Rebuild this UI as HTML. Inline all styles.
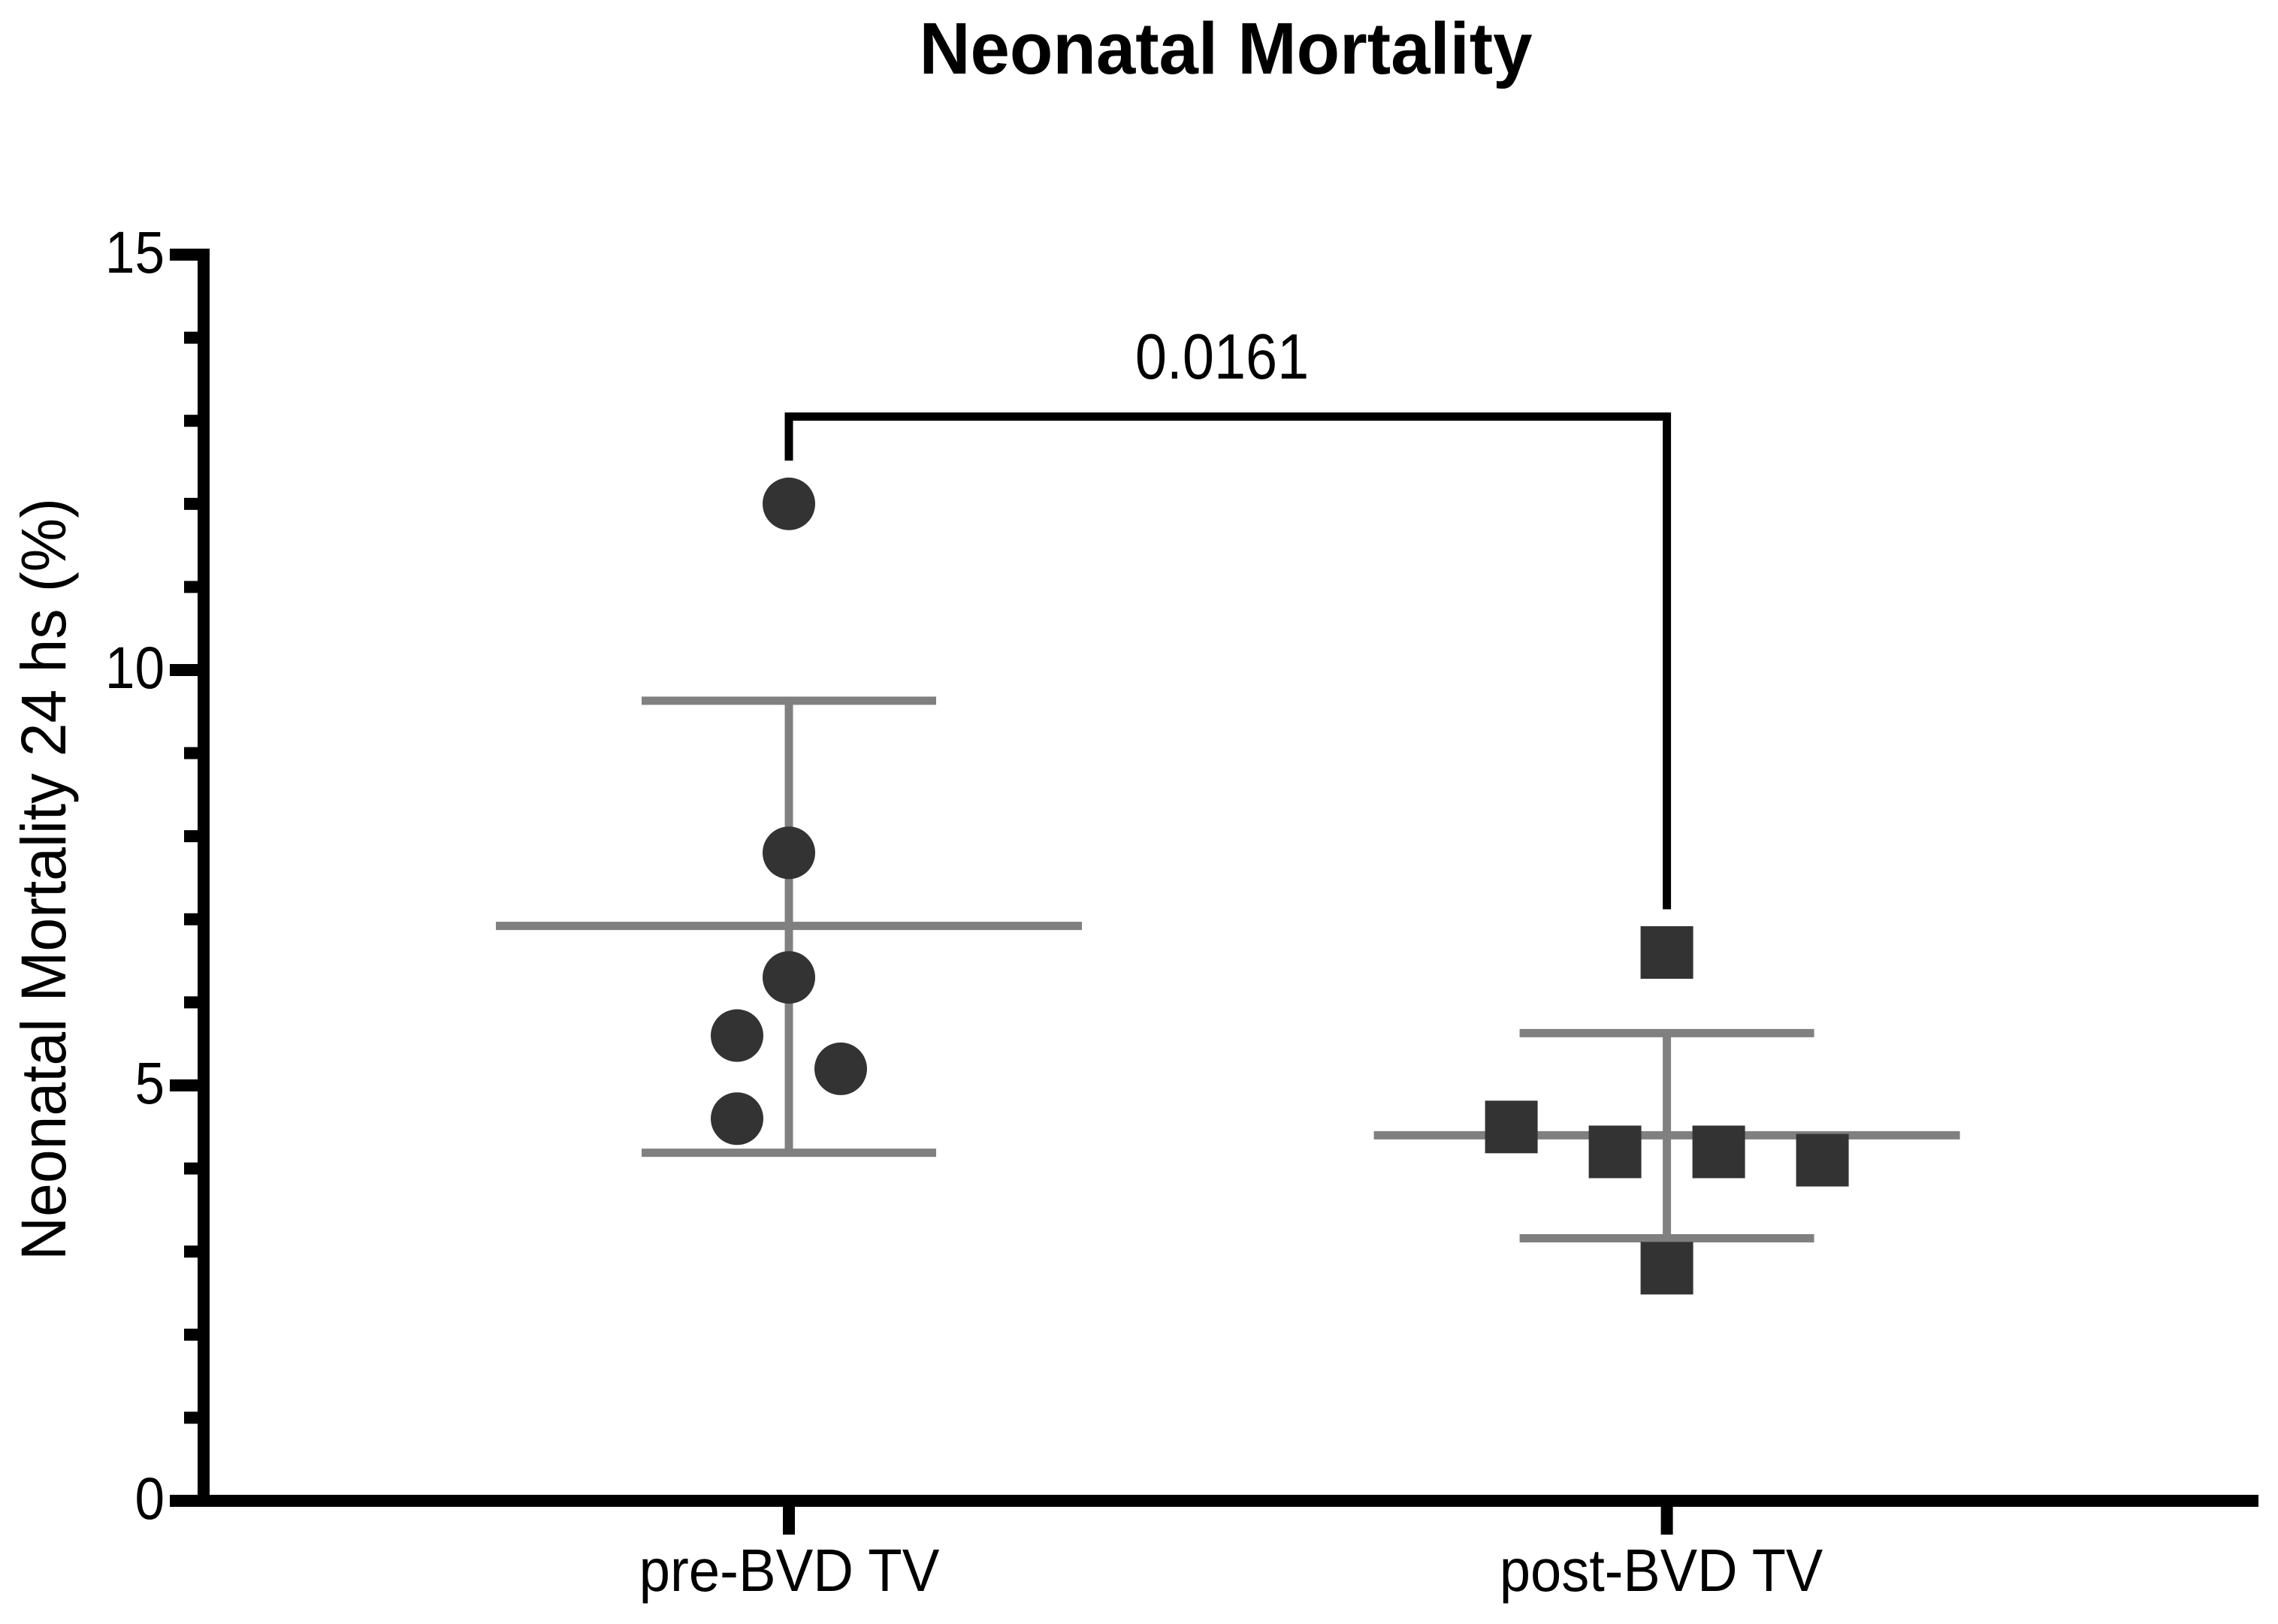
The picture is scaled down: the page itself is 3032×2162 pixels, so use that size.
<!DOCTYPE html>
<html lang="en">
<head>
<meta charset="utf-8">
<title>Neonatal Mortality</title>
<style>
html,body{margin:0;padding:0;background:#fff;width:3032px;height:2162px;overflow:hidden}
svg{display:block}
text{font-family:"Liberation Sans",Arial,sans-serif;fill:#000}
</style>
</head>
<body>
<svg id="chart" xmlns="http://www.w3.org/2000/svg" width="3032" height="2162" viewBox="0 0 3032 2162">
  <rect x="0" y="0" width="3032" height="2162" fill="#fff"/>
  <text x="1223.5" y="98" font-size="97" font-weight="700" textLength="816" lengthAdjust="spacingAndGlyphs">Neonatal Mortality</text>
  <text transform="translate(87,1678) rotate(-90) scale(1,1.06)" x="0" y="0" font-size="80" textLength="1015" lengthAdjust="spacingAndGlyphs">Neonatal Mortality 24 hs (%)</text>
  <g id="errorbars"></g>
  <g id="points"></g>
  <g id="axes"></g>
  <g id="significance"></g>
</svg>
<script>
const categories = ['pre-BVD TV', 'post-BVD TV'];
const preValues = [12.0, 7.8, 6.3, 5.6, 5.2, 4.6];
const preSwarmSlots = [0, 0, 0, -1, 1, -1];
const postValues = [6.6, 4.5, 4.2, 4.2, 4.1, 2.8];
const postSwarmSlots = [0, -3, -1, 1, 3, 0];
const means = [6.92, 4.4];
const upperErrors = [9.63, 5.63];
const lowerErrors = [4.19, 3.16];
const majorTicks = [0, 5, 10, 15];
const minorTicks = [1, 2, 3, 4, 6, 7, 8, 9, 11, 12, 13, 14];
const pValueLabel = '0.0161';
const bracketLevels = [12.52, 13.05, 7.12];

const NS = 'http://www.w3.org/2000/svg';
const Y0 = 1998, PX_PER_UNIT = 110.6;
const X_FIRST = 1050, X_STEP = 1168.6;
const SLOT = 69, R = 35;
function yScale(v) { return Y0 - v * PX_PER_UNIT; }
function xScale(i) { return X_FIRST + i * X_STEP; }
function make(tag, attrs, parent) {
  const el = document.createElementNS(NS, tag);
  for (const k in attrs) el.setAttribute(k, attrs[k]);
  parent.appendChild(el);
  return el;
}
const gErr = document.getElementById('errorbars');
const gPts = document.getElementById('points');
const gAxes = document.getElementById('axes');
const gSig = document.getElementById('significance');

categories.forEach(function (cat, i) {
  const cx = xScale(i);
  const stem = make('line', {x1: cx, x2: cx, y1: yScale(upperErrors[i]), y2: yScale(lowerErrors[i]), stroke: '#808080', 'stroke-width': 11}, gErr);
  
  
  const upper = make('line', {x1: cx - 196, x2: cx + 196, y1: yScale(upperErrors[i]), y2: yScale(upperErrors[i]), stroke: '#808080', 'stroke-width': 11}, gErr);
  
  
  const lower = make('line', {x1: cx - 196, x2: cx + 196, y1: yScale(lowerErrors[i]), y2: yScale(lowerErrors[i]), stroke: '#808080', 'stroke-width': 11}, gErr);
  
  
  const mean = make('line', {x1: cx - 390, x2: cx + 390, y1: yScale(means[i]), y2: yScale(means[i]), stroke: '#808080', 'stroke-width': 11}, gErr);
  
  
});

preValues.forEach(function (v, i) {
  const c = make('circle', {cx: xScale(0) + preSwarmSlots[i] * SLOT, cy: yScale(v), r: R, fill: '#333'}, gPts);
  
  
});
postValues.forEach(function (v, i) {
  const s = make('rect', {x: xScale(1) + postSwarmSlots[i] * SLOT - R, y: yScale(v) - R, width: 2 * R, height: 2 * R, fill: '#333'}, gPts);
  
  
});

const yAxisLine = make('rect', {x: 263, y: 331, width: 16, height: 1675, fill: '#000'}, gAxes);


const xAxisLine = make('rect', {x: 226, y: 1990, width: 2780, height: 16, fill: '#000'}, gAxes);



majorTicks.forEach(function (t) {
  const tick = make('rect', {x: 226, y: yScale(t) - 8, width: 40, height: 16, fill: '#000'}, gAxes);
  
  
  const label = make('text', {'text-anchor': 'end', 'font-size': 79, transform: 'translate(219,' + (yScale(t) + 24) + ') scale(0.9,1)'}, gAxes);
  label.textContent = String(t);
  
  
});
minorTicks.forEach(function (t) {
  const tick = make('rect', {x: 245, y: yScale(t) - 8, width: 21, height: 16, fill: '#000'}, gAxes);
  
  
});
categories.forEach(function (cat, i) {
  const tick = make('rect', {x: xScale(i) - 8, y: 2003, width: 16, height: 40, fill: '#000'}, gAxes);
  
  
  const label = make('text', {'text-anchor': 'middle', 'font-size': 80, transform: 'translate(' + (xScale(i) + (i === 0 ? 0.5 : -7.5)) + ',2118) scale(' + (i === 0 ? 0.93 : 0.925) + ',1)'}, gAxes);
  label.textContent = cat;
  
  
});

const bracket = make('path', {
  d: 'M' + xScale(0) + ' ' + yScale(bracketLevels[0]) + 'V' + yScale(bracketLevels[1]) + 'H' + xScale(1) + 'V' + yScale(bracketLevels[2]),
  fill: 'none', stroke: '#000', 'stroke-width': 11, 'stroke-linejoin': 'miter'
}, gSig);


const pText = make('text', {'text-anchor': 'middle', 'font-size': 85, transform: 'translate(1626.5,504) scale(0.89,1)'}, gSig);
pText.textContent = pValueLabel;


</script>
</body>
</html>
